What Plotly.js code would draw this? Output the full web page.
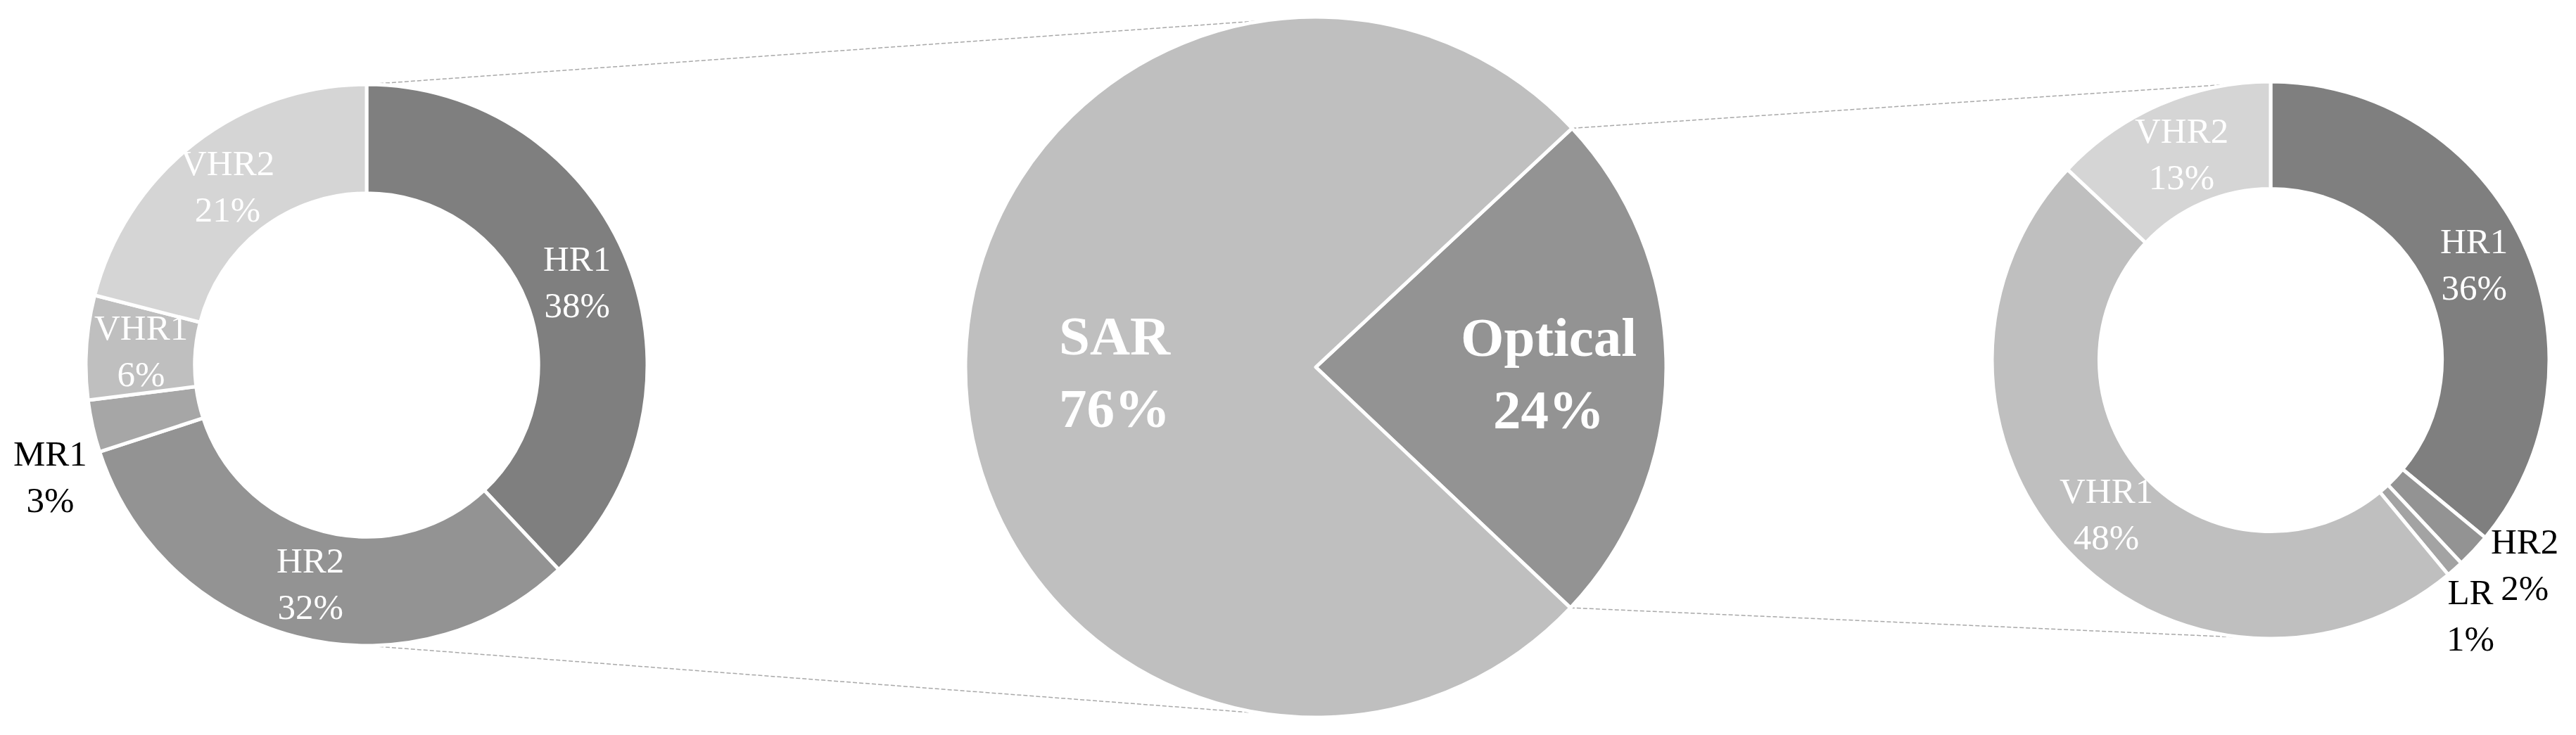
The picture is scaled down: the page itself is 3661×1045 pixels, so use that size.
<!DOCTYPE html>
<html><head><meta charset="utf-8">
<script src="https://cdn.plot.ly/plotly-3.0.1.min.js"></script>
<style>html,body{margin:0;padding:0;background:#fff;} #chart{width:3661px;height:1045px;}</style>
</head><body><div id="chart"></div>
<script>
// ---- data ----
const mainLabels = ['Optical', 'SAR'];
const mainValues = [24, 76];
const sarLabels = ['HR1', 'HR2', 'MR1', 'VHR1', 'VHR2'];
const sarValues = [38, 32, 3, 6, 21];
const opticalLabels = ['HR1', 'HR2', 'LR', 'VHR1', 'VHR2'];
const opticalValues = [36, 2, 1, 48, 13];

// ---- styling ----
const W = 3661, H = 1045;
const colorOf = {HR1:'#7f7f7f', HR2:'#939393', MR1:'#a6a6a6', LR:'#a3a3a3', VHR1:'#bfbfbf', VHR2:'#d5d5d5', SAR:'#bfbfbf', Optical:'#939393'};
const FONT = 'Liberation Serif, Times New Roman, serif';
const geo = {
  left:  {cx: 521,  cy: 519, r: 399, hole: 0.612, rotation: 0},
  mid:   {cx: 1870, cy: 522, r: 498, hole: 0,     rotation: 47},
  right: {cx: 3227, cy: 512, r: 396, hole: 0.615, rotation: 0}
};
// labels drawn outside the ring: offset of label centre from the slice's outer mid point (px)
const outsideOffset = {left: {MR1: [-60, 72]}, right: {HR2: [72, 20], LR: [22, 66]}};
const labelSize = 51, mainLabelSize = 79, mainLabelDy = 8;

function dom(g){ return {x:[(g.cx-g.r)/W,(g.cx+g.r)/W], y:[1-(g.cy+g.r)/H, 1-(g.cy-g.r)/H]}; }
function pt(g, deg, rr){ const a = deg*Math.PI/180; const R = (rr===undefined?g.r:rr); return [g.cx + R*Math.sin(a), g.cy - R*Math.cos(a)]; }
const sliceLine = {color:'#ffffff', width:5};

function pieTrace(labels, values, g){
  return {
    type:'pie', labels: labels, values: values, sort:false, direction:'clockwise',
    rotation: g.rotation, hole: g.hole, domain: dom(g),
    marker:{colors: labels.map(l=>colorOf[l]), line: sliceLine},
    textinfo:'none', hoverinfo:'label+percent', showlegend:false
  };
}
const traces = [
  pieTrace(mainLabels, mainValues, geo.mid),
  pieTrace(sarLabels, sarValues, geo.left),
  pieTrace(opticalLabels, opticalValues, geo.right)
];

// ---- data labels (placed at each slice's mid angle) ----
const annotations = [];
function ann(p, text, font, xanchor){
  annotations.push({xref:'paper', yref:'paper', x:p[0]/W, y:1-p[1]/H, text:text, showarrow:false,
    xanchor: xanchor || 'center', yanchor:'middle', align:'center', font:font});
}
function midAngles(values, g){
  const tot = values.reduce((a,b)=>a+b,0); let cum = 0;
  return values.map(v=>{ const m = g.rotation + (cum + v/2)/tot*360; cum += v; return m; });
}
function donutLabels(key, labels, values){
  const g = geo[key];
  const mids = midAngles(values, g);
  labels.forEach((lab, i)=>{
    const text = lab + '<br>' + values[i] + '%';
    const off = (outsideOffset[key]||{})[lab];
    if (off){
      const p = pt(g, mids[i]);
      ann([p[0]+off[0], p[1]+off[1]], text, {family:FONT, size:labelSize, color:'#000000'});
    } else {
      const p = pt(g, mids[i], g.r*(1+g.hole)/2);
      ann(p, text, {family:FONT, size:labelSize, color:'#ffffff'});
    }
  });
}
donutLabels('left', sarLabels, sarValues);
donutLabels('right', opticalLabels, opticalValues);
(function(){
  const g = geo.mid; const mids = midAngles(mainValues, g);
  mainLabels.forEach((lab, i)=>{
    const p = pt(g, mids[i], g.r*0.41);
    const right = Math.sin(mids[i]*Math.PI/180) > 0;
    ann([p[0], p[1] + mainLabelDy], '<b>' + lab + '</b><br><b>' + mainValues[i] + '%</b>',
        {family:FONT, size:mainLabelSize, color:'#ffffff'}, right ? 'left' : 'right');
  });
})();

// ---- connector lines, derived from the geometry and the Optical slice angles ----
const optStart = geo.mid.rotation;
const optEnd = geo.mid.rotation + mainValues[0]/(mainValues[0]+mainValues[1])*360;
function seg(p, q){
  return {type:'line', xref:'paper', yref:'paper', layer:'below',
    x0:p[0]/W, y0:1-p[1]/H, x1:q[0]/W, y1:1-q[1]/H,
    line:{color:'#a8a8a8', width:1.5, dash:'6px,3px'}};
}
const shapes = [
  seg(pt(geo.left,0), pt(geo.mid,0)),
  seg(pt(geo.left,180), pt(geo.mid,180)),
  seg(pt(geo.mid,optStart), pt(geo.right,0)),
  seg(pt(geo.mid,optEnd), pt(geo.right,180))
];

const layout = {
  width: W, height: H, margin:{l:0,r:0,t:0,b:0},
  paper_bgcolor:'#ffffff', plot_bgcolor:'#ffffff',
  font:{family:FONT},
  shapes: shapes, annotations: annotations
};
Plotly.newPlot('chart', traces, layout, {staticPlot:true, displayModeBar:false});
</script>
</body></html>
